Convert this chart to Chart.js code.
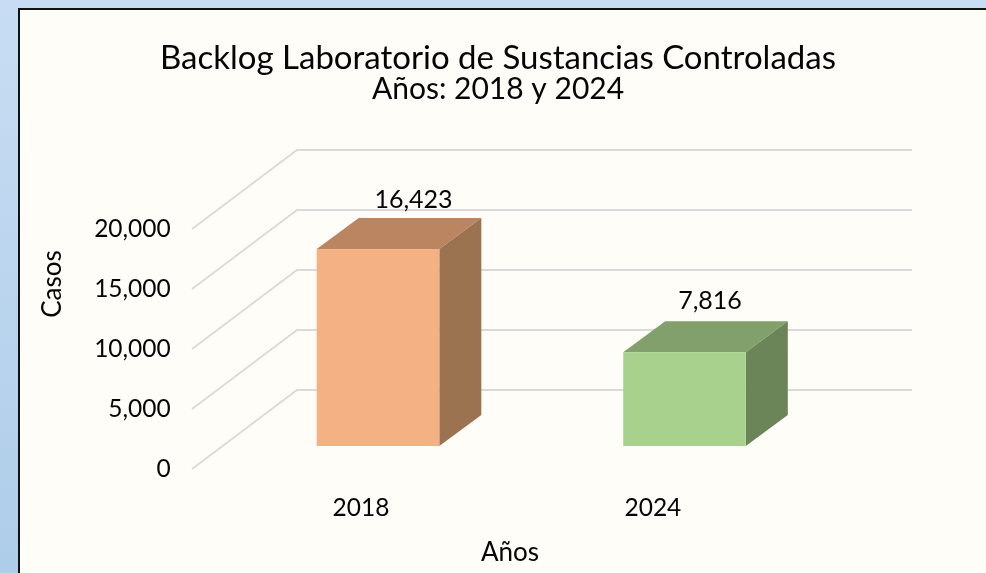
<!DOCTYPE html>
<html lang="es">
<head>
<meta charset="utf-8">
<title>Backlog Laboratorio de Sustancias Controladas</title>
<script src="https://cdn.jsdelivr.net/npm/chart.js@4"></script>
<style>
  html, body { margin: 0; padding: 0; width: 986px; height: 573px; overflow: hidden; }
  body { background: linear-gradient(180deg, #C8DDF3 0%, #AECDE9 100%); position: relative; }
  #panel { position: absolute; left: 18px; top: 8px; width: 990px; height: 600px; box-sizing: border-box;
           border: 2px solid #111; background: #FEFDF8; }
  canvas { position: absolute; left: 0; top: 0; }
</style>
</head>
<body>
<div id="panel"></div>
<canvas id="chart" width="986" height="573"></canvas>
<script>
const categories = ['2018', '2024'];
const casos = [16423, 7816];
const yTicks = [0, 5000, 10000, 15000, 20000];
const frontColors = ['#F4B183', '#A9D18E'];
const topColors = ['#BB8562', '#81A06C'];
const sideColors = ['#9C7350', '#6B8559'];

const FONT = 'Lato, Carlito, Calibri, sans-serif';
const INK = '#050505';
const fmt = v => Number(v).toLocaleString('en-US');

const wall = { dx: 105, dy: -79, left: 192, right: 912 };
const bar3d = { dx: 42, dy: -31 };
const labelShift = [[35.5, -49], [25.5, -51]];

const walls3d = {
  id: 'walls3d',
  beforeDatasetsDraw(chart) {
    const { ctx, scales: { y } } = chart;
    ctx.save();
    ctx.strokeStyle = '#DADAD8';
    ctx.lineWidth = 1.8;
    yTicks.forEach(v => {
      const py = y.getPixelForValue(v);
      ctx.beginPath();
      ctx.moveTo(wall.left, py);
      ctx.lineTo(wall.left + wall.dx, py + wall.dy);
      ctx.lineTo(wall.right, py + wall.dy);
      ctx.stroke();
    });
    ctx.restore();
    // faces of the bars that sit behind the front face
    const meta = chart.getDatasetMeta(0);
    meta.data.forEach((el, i) => {
      const hw = el.width / 2, l = el.x - hw, r = el.x + hw, t = el.y, b = el.base;
      ctx.save();
      ctx.fillStyle = topColors[i];
      ctx.beginPath();
      ctx.moveTo(l, t); ctx.lineTo(l + bar3d.dx, t + bar3d.dy);
      ctx.lineTo(r + bar3d.dx, t + bar3d.dy); ctx.lineTo(r, t); ctx.closePath();
      ctx.fill();
      ctx.fillStyle = sideColors[i];
      ctx.beginPath();
      ctx.moveTo(r, t); ctx.lineTo(r + bar3d.dx, t + bar3d.dy);
      ctx.lineTo(r + bar3d.dx, b + bar3d.dy); ctx.lineTo(r, b); ctx.closePath();
      ctx.fill();
      ctx.restore();
    });
  },
  afterDatasetsDraw(chart) {
    const { ctx } = chart;
    const meta = chart.getDatasetMeta(0);
    ctx.save();
    ctx.fillStyle = INK;
    ctx.textAlign = 'center';
    ctx.textBaseline = 'middle';
    ctx.font = '25px ' + FONT;
    meta.data.forEach((el, i) => {
      ctx.fillText(fmt(casos[i]), el.x + labelShift[i][0], el.y + labelShift[i][1]);
    });
    ctx.font = '26px ' + FONT;
    ctx.fillText('Años', 510, 553);
    ctx.translate(53, 284);
    ctx.rotate(-Math.PI / 2);
    ctx.fillText('Casos', 0, 0);
    ctx.restore();
  }
};

const BAR_FLOOR = -1917;

new Chart(document.getElementById('chart'), {
  type: 'bar',
  data: {
    labels: categories,
    datasets: [{
      label: 'Casos',
      data: casos,
      backgroundColor: frontColors,
      borderWidth: 0,
      categoryPercentage: 1,
      barPercentage: 0.4,
      xAxisID: 'x',
      yAxisID: 'yBars'
    }]
  },
  options: {
    responsive: false,
    animation: false,
    layout: { padding: { left: 10, right: 0, top: 0, bottom: 0 } },
    plugins: {
      legend: { display: false },
      tooltip: { enabled: false },
      title: {
        display: true,
        text: 'Backlog Laboratorio de Sustancias Controladas',
        color: INK,
        font: { family: FONT, size: 33, weight: 'normal', lineHeight: 1 },
        padding: { top: 41.5, bottom: 0 }
      },
      subtitle: {
        display: true,
        text: 'Años: 2018 y 2024',
        color: INK,
        font: { family: FONT, size: 30, weight: 'normal', lineHeight: 1 },
        padding: { top: 0, bottom: 124.5 }
      }
    },
    scales: {
      x: { type: 'category', display: false, offset: true, grid: { display: false } },
      xLabels: {
        type: 'linear',
        position: 'bottom',
        offset: false,
        min: 2015.2,
        max: 2027.8,
        afterBuildTicks: s => { s.ticks = categories.map(v => ({ value: +v })); },
        afterFit: s => { s.height = 104; },
        grid: { display: false, drawTicks: false },
        border: { display: false },
        ticks: {
          autoSkip: false,
          maxRotation: 0,
          padding: 24,
          color: INK,
          font: { family: FONT, size: 24.5 },
          callback: v => String(v)
        }
      },
      y: {
        position: 'left',
        min: yTicks[0],
        max: yTicks[yTicks.length - 1],
        afterBuildTicks: s => { s.ticks = yTicks.map(v => ({ value: v })); },
        afterFit: s => { s.width = 214.75; },
        grid: { display: false, drawTicks: false },
        border: { display: false },
        ticks: {
          padding: 54,
          color: INK,
          font: { family: FONT, size: 24.5 },
          callback: v => fmt(v)
        }
      },
      yBars: {
        position: 'right',
        min: BAR_FLOOR,
        max: yTicks[yTicks.length - 1] + BAR_FLOOR,
        afterFit: s => { s.width = 148.25; },
        grid: { display: false, drawTicks: false },
        border: { display: false },
        ticks: { display: false }
      }
    }
  },
  plugins: [walls3d]
});
</script>
</body>
</html>
